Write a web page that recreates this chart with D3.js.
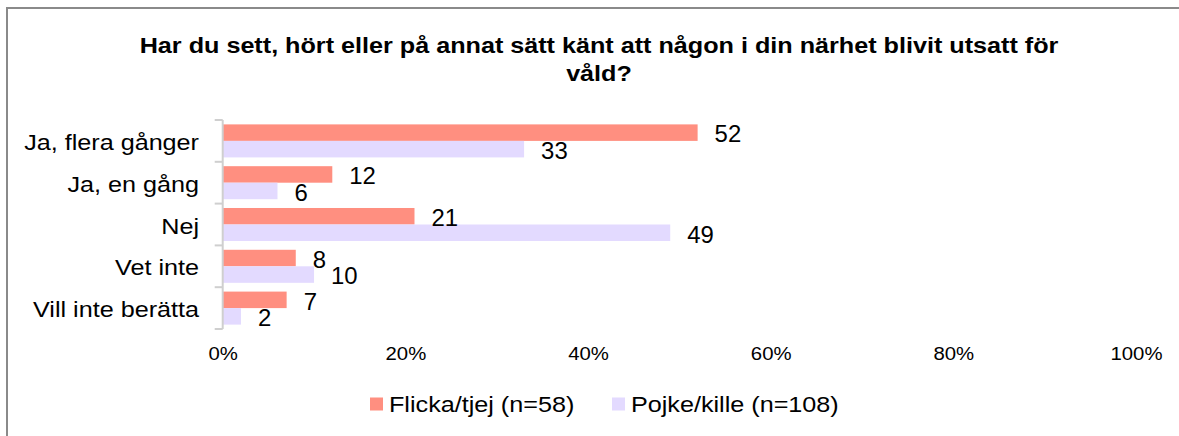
<!DOCTYPE html>
<html>
<head>
<meta charset="utf-8">
<script src="https://cdn.jsdelivr.net/npm/d3@7"></script>
<style>
  body { margin: 0; background: #fff; overflow: hidden; }
  svg { display: block; }
  text { font-family: "Liberation Sans", Arial, sans-serif; fill: #000; }
</style>
</head>
<body>
<div class="chart"></div>
<script>
const categories = ["Ja, flera gånger", "Ja, en gång", "Nej", "Vet inte", "Vill inte berätta"];
const series = ["Flicka/tjej (n=58)", "Pojke/kille (n=108)"];
const flicka = [52, 12, 21, 8, 7];
const pojke = [33, 6, 49, 10, 2];
const xTicks = [0, 20, 40, 60, 80, 100];
const colors = ["#ff8f80", "#e3daff"];

const width = 1179;
const height = 436;
const sx = 1.145; // horizontal stretch of the text in the picture

const values = [flicka, pojke];
const rows = categories.map((c, i) => ({ cat: c, vals: values.map((v) => v[i]) }));

const svg = d3
  .select(".chart")
  .append("svg")
  .attr("width", width)
  .attr("height", height);

// frame
svg
  .append("rect")
  .attr("x", 7)
  .attr("y", 8)
  .attr("width", width + 20)
  .attr("height", height)
  .attr("fill", "none")
  .attr("stroke", "#8a8a8a")
  .attr("stroke-width", 2);

function stretched(sel, x, y, s = sx) {
  return sel.attr("transform", `translate(${x},${y}) scale(${s},1)`);
}

// title
const title = ["Har du sett, hört eller på annat sätt känt att någon i din närhet blivit utsatt för", "våld?"];
title.forEach((t, i) => {
  stretched(svg.append("text"), 599, 53 + i * 28)
    .attr("text-anchor", "middle")
    .style("font-size", "22px")
    .style("font-weight", "bold")
    .text(t);
});

const x = d3.scaleLinear().domain([0, 100]).range([222.7, 1136]);
const y = d3
  .scaleBand()
  .domain(categories)
  .range([120, 329])
  .paddingInner(0.21)
  .paddingOuter(0.105);
const y1 = d3.scaleBand().domain(series).range([0, y.bandwidth()]);

// bars
const groups = svg
  .selectAll("g.row")
  .data(rows)
  .join("g")
  .attr("class", "row")
  .attr("transform", (d) => `translate(0,${y(d.cat)})`);

groups
  .selectAll("rect")
  .data((d) => d.vals.map((v, i) => ({ s: series[i], v, i })))
  .join("rect")
  .attr("x", x(0))
  .attr("y", (d) => y1(d.s))
  .attr("width", (d) => x(d.v) - x(0))
  .attr("height", y1.bandwidth())
  .attr("fill", (d) => colors[d.i]);

groups
  .selectAll("text.val")
  .data((d) => d.vals.map((v, i) => ({ s: series[i], v, i })))
  .join("text")
  .attr("class", "val")
  .each(function (d) {
    stretched(d3.select(this), x(d.v) + 17, y1(d.s) + y1.bandwidth() + 1.5, 1.04);
  })
  .style("font-size", "23px")
  .text((d) => d.v);

// category axis line and boundary ticks
const step = y.step();
const y0 = y.range()[0];
svg
  .append("line")
  .attr("x1", x(0))
  .attr("x2", x(0))
  .attr("y1", y0)
  .attr("y2", y.range()[1])
  .attr("stroke", "#cfcfcf")
  .attr("stroke-width", 2);
svg
  .selectAll("line.tick")
  .data(d3.range(categories.length + 1))
  .join("line")
  .attr("class", "tick")
  .attr("x1", x(0) - 8)
  .attr("x2", x(0))
  .attr("y1", (i) => y0 + i * step)
  .attr("y2", (i) => y0 + i * step)
  .attr("stroke", "#cfcfcf")
  .attr("stroke-width", 2);

// category labels
categories.forEach((c) => {
  stretched(svg.append("text"), 199, y(c) + y.bandwidth() / 2 + 9)
    .attr("text-anchor", "end")
    .style("font-size", "22px")
    .text(c);
});

// value axis
const xAxis = svg
  .append("g")
  .attr("transform", "translate(0,360)")
  .call(
    d3
      .axisBottom(x)
      .tickValues(xTicks)
      .tickSize(0)
      .tickPadding(0)
      .tickFormat((d) => d + "%")
  );
xAxis.select(".domain").remove();
xAxis
  .selectAll("text")
  .attr("dy", 0)
  .attr("transform", "scale(1.1,1)")
  .style("font-size", "18.5px")
  .style("font-family", "'Liberation Sans', Arial, sans-serif")
  .attr("fill", "#000");

// legend
const legendX = [370, 612];
series.forEach((s, i) => {
  svg
    .append("rect")
    .attr("x", legendX[i])
    .attr("y", 397.5)
    .attr("width", 13)
    .attr("height", 13)
    .attr("fill", colors[i]);
  stretched(svg.append("text"), legendX[i] + 19, 412)
    .style("font-size", "22px")
    .text(s);
});
</script>
</body>
</html>
